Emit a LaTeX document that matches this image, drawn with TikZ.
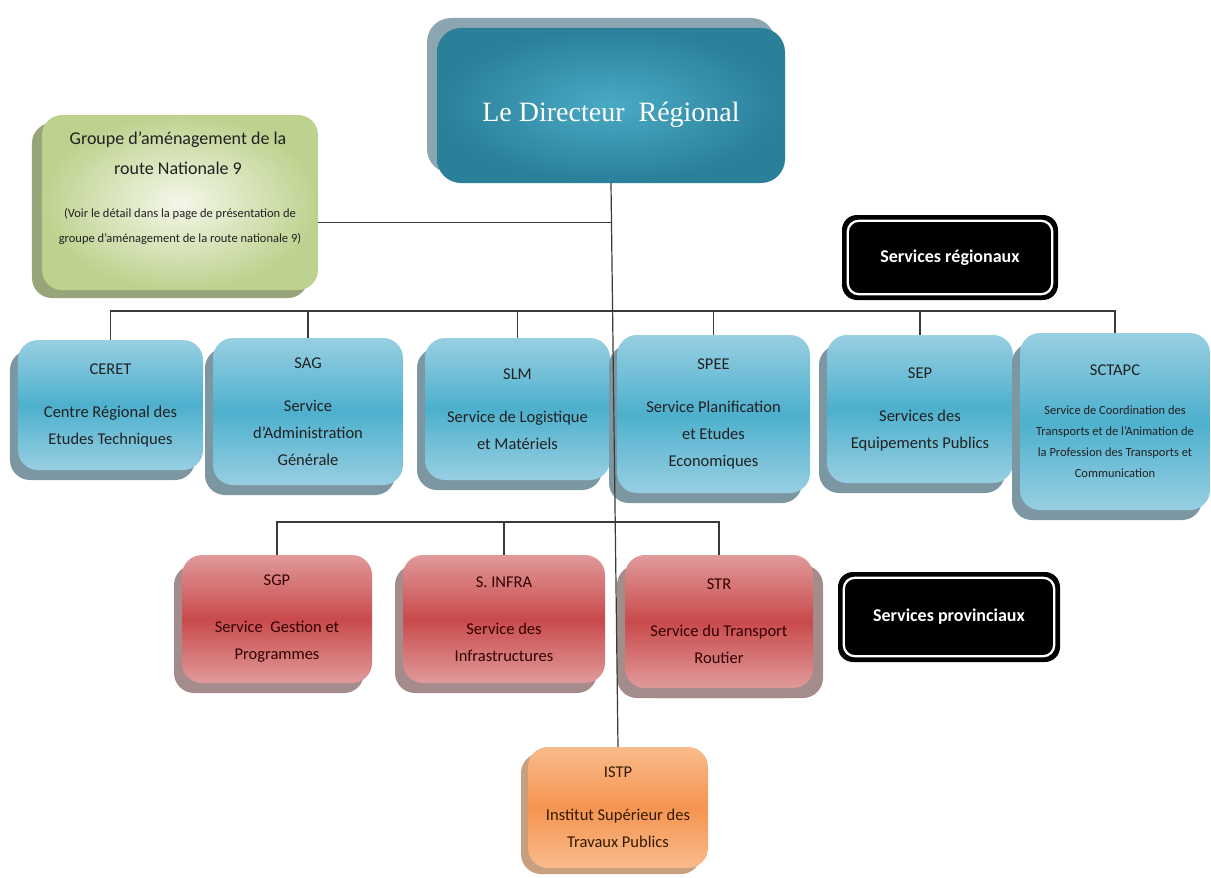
\documentclass[tikz,border=0pt]{standalone}
\usepackage{fontspec}
\setmainfont{Carlito}
\newfontfamily\dirfont{Liberation Serif}
\usetikzlibrary{shadows}
\definecolor{bluetop}{HTML}{98CFE2}
\definecolor{bluemid}{HTML}{4DB0CD}
\definecolor{blueshadow}{HTML}{7D97A2}
\definecolor{redtop}{HTML}{E09A9A}
\definecolor{redmid}{HTML}{C94A4C}
\definecolor{redshadow}{HTML}{A58C8C}
\definecolor{orangetop}{HTML}{F9BB8C}
\definecolor{orangemid}{HTML}{F59450}
\definecolor{orangeshadow}{HTML}{C8A080}
\definecolor{grnin}{HTML}{F4F7E9}
\definecolor{grnout}{HTML}{BED28F}
\definecolor{grnshadow}{HTML}{98A57A}
\definecolor{dirin}{HTML}{4AAAC5}
\definecolor{dirout}{HTML}{2A7F99}
\definecolor{dirshadow}{HTML}{8BA6B1}
\definecolor{linkgray}{HTML}{3A3A3A}
\tikzset{
  box/.style={rounded corners=20bp, inner sep=0pt, align=center, text=black!87,
    font=\fontsize{16.5bp}{27bp}\selectfont},
  bluebox/.style={box, top color=bluetop, bottom color=bluetop, middle color=bluemid,
    drop shadow={shadow xshift=-8bp, shadow yshift=-10bp, fill=blueshadow, opacity=1}},
  redbox/.style={box, top color=redtop, bottom color=redtop, middle color=redmid, text=black!80!red,
    drop shadow={shadow xshift=-8bp, shadow yshift=-10bp, fill=redshadow, opacity=1}},
  orangebox/.style={box, top color=orangetop, bottom color=orangetop, middle color=orangemid,
    text=black!80!orange,
    drop shadow={shadow xshift=-7bp, shadow yshift=-6bp, fill=orangeshadow, opacity=1}},
  grnbox/.style={box, inner color=grnin, outer color=grnout,
    drop shadow={shadow xshift=-10bp, shadow yshift=-8bp, fill=grnshadow, opacity=1}},
  grntitle/.style={align=center, text=black!87, font=\fontsize{18bp}{30bp}\selectfont},
  grnnote/.style={align=center, text=black!87, font=\fontsize{12.5bp}{25bp}\selectfont},
  dirbox/.style={rounded corners=24bp, inner sep=0pt, inner color=dirin, outer color=dirout,
    minimum width=348bp, minimum height=155bp,
    drop shadow={shadow xshift=-10bp, shadow yshift=10bp, fill=dirshadow, opacity=1}},
  dirtext/.style={text=white, font=\dirfont\fontsize{28bp}{32bp}\selectfont},
  tagbox/.style={rounded corners=15bp, fill=black, text=white, inner sep=0pt,
    font=\bfseries\fontsize{18bp}{22bp}\selectfont},
  tagline/.style={draw=white, line width=2.3bp, rounded corners=11bp},
  link/.style={draw=linkgray, line width=1.2bp}
}

\begin{document}
\begin{tikzpicture}[x=1bp, y=-1bp]
    \useasboundingbox (0,0) rectangle (1211,878);

    \node[dirbox, label={[dirtext, yshift=-9bp]center:Le Directeur~~Régional}] (dir) at (611,105.5) {};
    \node[grnbox, minimum width=276bp, minimum height=175bp] (grp) at (180,202.5) {};
    \node[grntitle] (grptitle) at (178,153) {Groupe d’aménagement de la\\route Nationale 9};
    \node[grnnote] (grpnote) at (180,227) {(Voir le détail dans la page de présentation de\\groupe d’aménagement de la route nationale 9)};

    \node[tagbox, minimum width=216bp, minimum height=85bp] (reg) at (950,257.5) {Services régionaux};
    \draw[tagline] ([shift={(6bp,-6bp)}]reg.north west) rectangle ([shift={(-6bp,6bp)}]reg.south east);
    \node[tagbox, minimum width=222bp, minimum height=90bp] (prov) at (949,617) {Services provinciaux};
    \draw[tagline] ([shift={(6bp,-6bp)}]prov.north west) rectangle ([shift={(-6bp,6bp)}]prov.south east);

    \node[bluebox, minimum width=185bp, minimum height=130bp] (ceret) at (110.5,405) {CERET\\[16bp]Centre Régional des\\Etudes Techniques};
    \node[bluebox, minimum width=190bp, minimum height=147bp] (sag) at (308,411.5) {SAG\\[16bp]Service\\d’Administration\\Générale};
    \node[bluebox, minimum width=185bp, minimum height=142bp] (slm) at (517.5,409) {SLM\\[16bp]Service de Logistique\\et Matériels};
    \node[bluebox, minimum width=193bp, minimum height=158bp] (spee) at (713.5,414) {SPEE\\[16bp]Service Planification\\et Etudes\\Economiques};
    \node[bluebox, minimum width=186bp, minimum height=148bp] (sep) at (920,409) {SEP\\[16bp]Services des\\Equipements Publics};
    \node[bluebox, minimum width=190bp, minimum height=177bp, font=\fontsize{12.5bp}{21bp}\selectfont] (sctapc) at (1115,421.5) {{\fontsize{16.5bp}{27bp}\selectfont SCTAPC}\\[18bp]Service de Coordination des\\Transports et de l’Animation de\\la Profession des Transports et\\Communication};

    \node[redbox, minimum width=190bp, minimum height=128bp] (sgp) at (277,619) {SGP\\[20bp]Service~ Gestion et\\Programmes};
    \node[redbox, minimum width=202bp, minimum height=128bp] (infra) at (504,619) {S. INFRA\\[20bp]Service des\\Infrastructures};
    \node[redbox, minimum width=188bp, minimum height=133bp,
      drop shadow={shadow xshift=10bp, shadow yshift=-10bp, fill=redshadow, opacity=1}] (str) at (719,621.5) {STR\\[20bp]Service du Transport\\Routier};

    \node[orangebox, minimum width=180bp, minimum height=121bp] (istp) at (618,807.5) {ISTP\\[16bp]Institut Supérieur des\\Travaux Publics};

    % liaisons
    \coordinate (busA) at (611,311);
    \coordinate (busB) at (611,522);
    \coordinate (grpout) at ([yshift=-20bp]grp.east);
    \draw[link] (dir.south) -- (istp.north);
    \draw[link] (grpout) -- (grpout -| dir.south);
    \draw[link] (ceret.north) |- (busA) -| (sctapc.north);
    \foreach \n in {sag,slm,spee,sep} \draw[link] (\n.north) -- (\n.north |- busA);
    \draw[link] (sgp.north) |- (busB) -| (str.north);
    \draw[link] (infra.north) -- (infra.north |- busB);
\end{tikzpicture}
\end{document}
